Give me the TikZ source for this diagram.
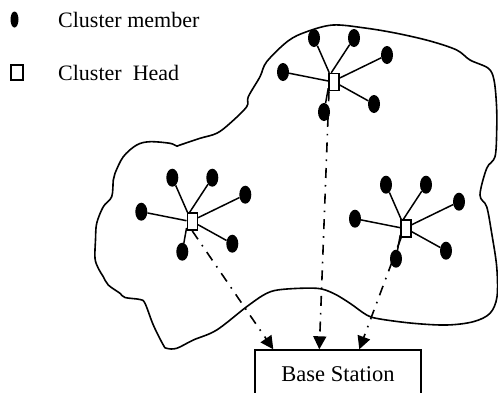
\documentclass[tikz,border=0pt]{standalone}
\usepackage{fontspec}
\setmainfont{Liberation Serif}
\usetikzlibrary{shapes.geometric,arrows.meta}
\tikzset{
  member/.style={ellipse, fill=black, draw=none, minimum width=12pt, minimum height=18pt, inner sep=0pt},
  head/.style={rectangle, draw=black, fill=white, line width=1.5pt, minimum width=10pt, minimum height=17pt, inner sep=0pt},
  link/.style={line width=1.5pt},
  dashdot/.style={line width=1.6pt, dash pattern=on 10pt off 7pt on 1.6pt off 7pt, -{Triangle[length=13pt,width=13pt]}},
  outline/.style={line width=1.6pt, line join=round},
  lbl/.style={font=\fontsize{22}{26}\selectfont, inner sep=0pt, anchor=base west},
  station/.style={rectangle, draw=black, line width=1.4pt, minimum width=166pt, minimum height=48pt, font=\fontsize{22.5}{26}\selectfont}
}
\newcommand\mkcluster[3]{%
  \node[head] (#1h) at (#2,#3) {};
  \node[member] (#1a) at ([shift={(-20,44)}]#1h.center) {};
  \node[member] (#1b) at ([shift={(20,44)}]#1h.center) {};
  \node[member] (#1c) at ([shift={(53,27)}]#1h.center) {};
  \node[member] (#1d) at ([shift={(-51,10)}]#1h.center) {};
  \node[member] (#1e) at ([shift={(40,-22)}]#1h.center) {};
  \node[member] (#1f) at ([shift={(-10,-30)}]#1h.center) {};
  \draw[link] (#1a) -- ([xshift=1pt]#1h.north west);
  \draw[link] (#1b) -- ([xshift=3pt]#1h.north west);
  \draw[link] (#1c) -- ([yshift=4pt]#1h.east);
  \draw[link] (#1d) -- ([yshift=1pt]#1h.west);
  \draw[link] (#1e) -- ([yshift=-3pt]#1h.east);
  \draw[link] (#1f) -- ([yshift=3pt]#1h.south west);
}
\begin{document}
\begin{tikzpicture}[x=1pt,y=1pt]
\useasboundingbox (0,0) rectangle (498,-392);
\clip (0,0) rectangle (498,-392);

% cloud outline
\draw[outline] plot[smooth cycle, tension=0.55] coordinates {
 (333,-25) (365,-28) (396.7,-33.3) (430,-41) (456.7,-50) (470,-60) (488.3,-68.3)
 (494,-80) (496.5,-105) (496.7,-130) (495,-156.7) (486.7,-168.3) (480,-195)
 (486.7,-206.7) (491.7,-233.3) (496.7,-266.7) (497,-296.7) (490,-313.3)
 (473.3,-321.7) (446.7,-325) (413.3,-323.3) (380,-319) (366.7,-315) (350,-303.3)
 (333.3,-293.3) (316.7,-288.3) (283.3,-289.3) (266.7,-293.3) (246.7,-306.7)
 (216.7,-330) (193.3,-340) (176.7,-348.3) (166.7,-348.3) (163.3,-345)
 (153.3,-325) (145,-303.3) (140,-299.5) (125,-297.5) (120,-293.3) (108.3,-285)
 (103.3,-276.7) (98.3,-268.3) (95,-258.3) (95.5,-240) (96.7,-223.3) (103.3,-206.7)
 (111.7,-196.7) (113.3,-180) (115,-173.3) (123.3,-156.7) (136.7,-145) (150,-141.7)
 (170,-143.3) (176.7,-146) (180,-145) (200,-138.3) (216.7,-133.3) (230,-123.3)
 (246.7,-106.7) (248.3,-96.7) (260,-76.7) (266.7,-61.7) (288,-41) (306.7,-31.7)};

% legend
\node[member, minimum width=8pt, minimum height=16pt] (legm) at (14.5,-19.5) {};
\node[lbl] (legmt) at (58,-27) {Cluster member};
\node[rectangle, draw=black, line width=1.3pt, minimum width=12pt, minimum height=15pt, inner sep=0pt] (legh) at (17,-72.5) {};
\node[lbl] (leght) at (58,-80) {Cluster\ \ Head};

% clusters
\mkcluster{T}{334}{-82}
\mkcluster{L}{192.3}{-221.7}
\mkcluster{R}{406}{-228.7}

% base station
\node[station] (bs) at (338,-374) {Base Station};

% links to base station
\draw[dashdot] (Lh.south) -- ([xshift=19pt]bs.north west);
\draw[dashdot] ([xshift=-5pt]Th.south) -- ([xshift=65pt]bs.north west);
\draw[dashdot] ([xshift=-5pt]Rh.south) -- ([xshift=105pt]bs.north west);
\end{tikzpicture}
\end{document}
